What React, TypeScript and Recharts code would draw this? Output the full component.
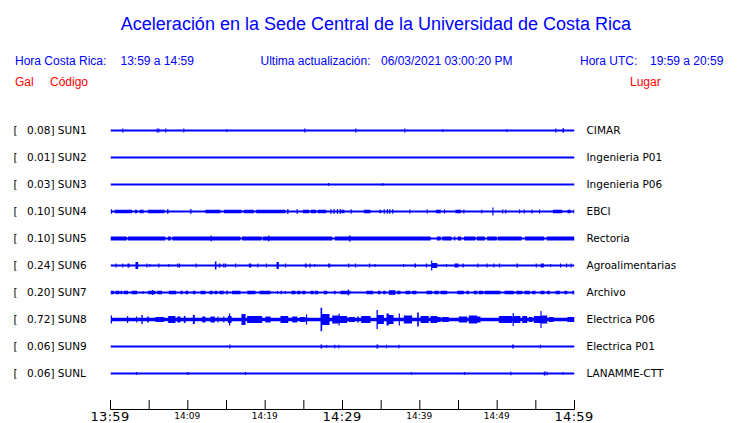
import React from 'react';
import { ComposedChart, Area, XAxis, YAxis } from 'recharts';

// ---------- data ----------
const CODES = ['SUN1', 'SUN2', 'SUN3', 'SUN4', 'SUN5', 'SUN6', 'SUN7', 'SUN8', 'SUN9', 'SUNL'];
const GAL = ['0.08', '0.01', '0.03', '0.10', '0.10', '0.24', '0.20', '0.72', '0.06', '0.06'];
const PLACES = ['CIMAR', 'Ingenieria P01', 'Ingenieria P06', 'EBCI', 'Rectoria', 'Agroalimentarias', 'Archivo', 'Electrica P06', 'Electrica P01', 'LANAMME-CTT'];

const TICK_MINUTES = [0, 5, 10, 15, 20, 25, 30, 35, 40, 45, 50, 55, 60];
const TICK_LABELS = ['13:59', '', '14:09', '', '14:19', '', '14:29', '', '14:39', '', '14:49', '', '14:59'];
const MAJOR_LABELS = ['13:59', '14:29', '14:59'];

// quiet-level half amplitude of each trace (px-like units)
const NOISE_FLOOR = [1, 1, 1, 1, 1, 1, 1, 1.8, 1, 1];

// bursts: [start minute, end minute, half amplitude]
const SUN1 = [[1.59, 1.59, 2], [6.04, 6.04, 2], [6.25, 6.25, 2], [7.15, 7.15, 2], [9.48, 9.48, 2], [15.04, 15.04, 1.6], [25.13, 25.13, 2], [31.72, 31.72, 2], [38.06, 38.06, 2], [42.97, 42.97, 1.6], [51.25, 51.25, 1.6], [57.58, 57.58, 2], [58.45, 58.65, 2.2]];
const SUN2: number[][] = [];
const SUN3 = [[28.2, 28.2, 1.6], [35.2, 35.2, 1.6]];
const SUN4 = [[0.05, 0.2, 2.2], [0.56, 2.8, 1.7], [3.15, 3.45, 1.7], [3.79, 4.31, 1.7], [4.83, 6.98, 1.7], [7.41, 7.41, 2.5], [10.39, 10.39, 2.5], [12.28, 14.22, 1.7], [14.66, 16.94, 1.7], [17.24, 18.53, 1.7], [18.84, 22.63, 1.7], [22.93, 22.93, 2.5], [24.14, 24.14, 2.5], [24.87, 25.7, 1.7], [25.9, 26.6, 1.7], [26.8, 27.89, 1.7], [28.5, 28.5, 2.5], [28.9, 28.9, 2.5], [29.35, 29.35, 2.5], [29.7, 29.7, 2.5], [29.87, 30.26, 1.7], [31.12, 31.12, 2.2], [32.76, 33.62, 1.7], [34.79, 35.0, 1.7], [35.4, 35.4, 2.2], [35.8, 35.8, 2.2], [36.1, 36.1, 2.2], [36.5, 36.5, 2.2], [38.7, 38.7, 2], [40.95, 40.95, 2], [42.1, 42.7, 1.7], [43.2, 43.2, 2], [44.6, 45.3, 1.7], [45.7, 45.7, 2], [47.9, 48.1, 1.7], [49.4, 49.5, 4], [50.7, 50.7, 2], [51.1, 51.1, 2], [52.9, 52.9, 2], [53.5, 53.5, 2], [54.5, 54.5, 2], [55.48, 55.48, 2], [57.2, 58.4, 1.7], [59.1, 59.5, 1.7], [59.9, 60, 2]];
const SUN5 = [[0, 2.1, 2], [2.25, 7.1, 2], [7.4, 7.8, 2], [8.0, 16.8, 2], [17.0, 19.55, 2], [19.7, 28.67, 2], [29.0, 41.4, 2], [42.2, 42.7, 2], [42.9, 44.1, 2], [44.4, 44.6, 2], [44.9, 45.35, 2], [45.7, 47.2, 2], [47.4, 48.4, 2], [48.7, 49.95, 2], [50.1, 53.15, 2], [53.6, 56.1, 2], [56.4, 60, 2], [13.02, 13.02, 3], [20.47, 20.47, 3], [30.95, 30.95, 3.2]];
const SUN6 = [[0.73, 0.73, 2], [1.59, 1.59, 2], [2.2, 2.46, 2], [3.23, 3.58, 3.5], [4.7, 4.7, 2], [5.08, 5.08, 1.5], [6.25, 6.25, 2], [7.54, 7.54, 1.5], [8.7, 8.7, 2], [8.92, 8.92, 2], [11.08, 11.08, 2], [13.5, 13.7, 4], [14.0, 14.2, 2], [14.65, 14.65, 2], [14.87, 14.87, 2], [16.1, 16.25, 2], [17.9, 18.2, 2], [19.05, 19.05, 2], [20.17, 20.17, 2], [21.47, 21.77, 3.5], [22.63, 22.63, 2], [25.13, 25.35, 2], [25.8, 25.8, 2], [26.4, 26.4, 1.5], [28.15, 28.4, 2], [30.8, 30.8, 2], [31.68, 31.68, 2], [33.5, 33.5, 2], [34.2, 34.2, 1.5], [37.9, 37.9, 1.5], [39.3, 39.5, 2], [40.86, 40.86, 2], [41.47, 41.6, 5], [41.6, 42.25, 2.5], [43.45, 43.45, 1.5], [44.5, 45.0, 2], [45.6, 45.6, 2], [47.5, 47.5, 2], [48.7, 48.7, 2], [49.57, 49.57, 2], [50.3, 50.3, 2], [52.5, 52.7, 2], [55.05, 55.05, 2], [55.65, 56.03, 2], [56.9, 56.9, 1.5], [58.2, 58.2, 2], [58.97, 58.97, 2], [59.57, 59.57, 2]];
const SUN7 = [[0, 0.43, 1.7], [0.65, 1.16, 1.7], [1.29, 1.51, 1.7], [1.72, 2.28, 1.7], [2.72, 3.45, 1.7], [4.2, 4.2, 1.5], [4.87, 5.82, 1.7], [5.4, 5.5, 2.6], [6.03, 6.68, 1.7], [7.54, 8.49, 1.7], [9.05, 9.35, 1.7], [9.7, 10.05, 1.7], [10.65, 10.99, 1.7], [11.64, 12.28, 1.7], [12.8, 13.23, 1.7], [13.45, 13.8, 1.7], [14.1, 14.65, 1.7], [14.96, 15.2, 1.7], [15.73, 16.81, 1.7], [17.67, 18.75, 1.7], [19.27, 20.69, 1.7], [21.6, 21.6, 1.5], [21.98, 22.2, 1.7], [22.6, 22.6, 1.5], [23.4, 23.92, 1.7], [24.14, 24.57, 1.7], [24.79, 25.22, 1.7], [25.86, 26.29, 1.7], [26.42, 26.86, 1.7], [27.58, 28.02, 1.7], [28.88, 29.1, 1.7], [29.74, 31.03, 1.7], [30.7, 30.8, 3], [33.1, 33.97, 1.7], [34.57, 34.92, 1.7], [35.26, 35.56, 1.7], [35.99, 36.85, 2.2], [37.07, 37.5, 1.7], [38.15, 38.79, 1.7], [39.0, 39.57, 1.7], [40.86, 41.6, 1.7], [41.9, 42.46, 1.7], [42.67, 43.54, 1.7], [44.83, 45.69, 1.7], [46.04, 46.34, 1.7], [46.98, 47.42, 1.7], [47.63, 48.2, 1.7], [48.36, 50.43, 1.7], [50.95, 52.16, 1.7], [52.5, 53.24, 1.7], [53.54, 54.23, 1.7], [54.53, 54.96, 1.7], [55.6, 56.12, 1.7], [56.47, 56.81, 1.7], [57.55, 58.1, 1.7], [58.7, 59.06, 1.7], [59.7, 60, 1.7]];
const SUN8 = [[0, 0.2, 4], [2.15, 2.28, 3.5], [3.32, 3.45, 3], [4.0, 4.17, 4.5], [4.74, 4.95, 3], [5.82, 6.9, 2.5], [7.46, 8.4, 3.5], [8.62, 9.05, 3], [9.48, 9.7, 3.5], [10.65, 10.9, 4.5], [11.86, 12.28, 3], [12.93, 13.49, 3], [13.9, 13.9, 3], [14.65, 14.65, 3], [15.17, 15.65, 3.5], [15.35, 15.45, 6], [16.94, 17.46, 5.5], [17.67, 19.61, 3.5], [20.04, 20.69, 3], [21.98, 22.98, 3.5], [23.49, 24.14, 3], [24.5, 25.2, 2.5], [25.35, 25.35, 5], [27.16, 27.37, 11.7], [27.37, 28.32, 5.5], [28.67, 29.53, 4], [29.53, 29.6, 6], [29.6, 30.61, 3.5], [30.8, 31.6, 2.5], [31.9, 32.1, 3], [32.42, 33.62, 3.5], [34.4, 34.57, 9.5], [34.57, 35.35, 4.5], [35.69, 35.99, 6], [35.99, 36.6, 4.5], [37.29, 37.41, 6], [37.93, 39.0, 4], [39.66, 39.87, 7], [40.09, 41.16, 3.5], [41.38, 42.25, 3.5], [42.25, 42.7, 2.5], [42.89, 43.75, 2.5], [45.04, 46.13, 3], [46.34, 47.42, 4], [47.42, 47.85, 3], [50.22, 51.95, 3.5], [52.07, 52.07, 6.5], [52.15, 53.0, 3.5], [53.24, 53.88, 3.5], [54.1, 54.55, 2.5], [54.74, 55.6, 3.5], [55.6, 55.73, 8.5], [55.73, 56.47, 4], [56.7, 57.3, 2.5], [59.06, 60, 2.5]];
const SUN9 = [[15.43, 15.43, 2], [27.16, 27.37, 2], [27.93, 27.93, 1.5], [29.0, 29.0, 1.8], [29.53, 29.53, 1.8], [34.4, 34.62, 2], [35.69, 35.69, 1.8], [37.29, 37.29, 1.8], [51.95, 52.15, 2], [55.6, 55.6, 1.8]];
const SUNL = [[3.36, 3.36, 1.5], [10.0, 10.0, 1.5], [17.46, 17.46, 1.5], [38.9, 38.9, 1.5], [45.78, 45.78, 1.5], [51.77, 51.77, 1.8], [56.03, 56.25, 2], [56.47, 56.47, 1.8], [58.5, 58.5, 1.5]];

const TRACES = [SUN1, SUN2, SUN3, SUN4, SUN5, SUN6, SUN7, SUN8, SUN9, SUNL];

// ---------- layout / style ----------
const W = 740;
const H = 423;
const BLUE = '#0000ff';
const RED = '#ff0000';
const SLOT = 27;
const FIRST = 13.5;
const Y_MAX = 292;
const T_MAX = 60;
const SPIKE_W = 0.15;

const centre = (i: number) => FIRST + SLOT * i;
const CENTRES = CODES.map((_, i) => centre(i));

const r3 = (v: number) => Math.round(v * 1000) / 1000;
const SEGS = TRACES.map((b) =>
  b.map(([s, e, a]) => {
    let s2 = s, e2 = e;
    if (e - s < SPIKE_W) { s2 = (s + e) / 2 - SPIKE_W / 2; e2 = (s + e) / 2 + SPIKE_W / 2; }
    return [r3(Math.max(0, s2)), r3(Math.min(T_MAX, e2)), a];
  })
);
const bp = new Set<number>([0, T_MAX]);
SEGS.forEach((segs) => segs.forEach(([s, e]) => { bp.add(s); bp.add(e); }));
const BPS = Array.from(bp).sort((a, b) => a - b);
const ROWS = BPS.map((t, k) => {
  const mid = k < BPS.length - 1 ? (t + BPS[k + 1]) / 2 : (BPS[k - 1] + t) / 2;
  const row: any = { t };
  SEGS.forEach((segs, i) => {
    let a = NOISE_FLOOR[i];
    segs.forEach(([s, e, amp]) => { if (mid >= s && mid < e && amp > a) a = amp; });
    const c = centre(i);
    row['s' + i] = [c - a, c + a];
  });
  return row;
});

const DEJAVU = '"DejaVu Sans", Verdana, sans-serif';
const ARIAL = '"Liberation Sans", Arial, Helvetica, sans-serif';

function StationTick(props: any) {
  const { y, payload } = props;
  const i = Math.round((payload.value - FIRST) / SLOT);
  return (
    <g>
      <text x={13.5} y={y + 3} fontSize={10.5} fontFamily={DEJAVU} fill="#000">[</text>
      <text x={27} y={y + 3} fontSize={10.5} fontFamily={DEJAVU} fill="#000">{`${GAL[i]}] ${CODES[i]}`}</text>
      <text x={586.5} y={y + 3} fontSize={10.5} fontFamily={DEJAVU} fill="#000">{PLACES[i]}</text>
    </g>
  );
}

function TimeTick(props: any) {
  const { x, y, payload } = props;
  const label = TICK_LABELS[TICK_MINUTES.indexOf(payload.value)] || '';
  const major = MAJOR_LABELS.includes(label);
  return (
    <g>
      <line x1={x} x2={x} y1={y - 9.5} y2={y} stroke="#000" strokeWidth={1} />
      {label ? (
        <text x={x - 0.5} y={major ? y + 11.5 : y + 9} textAnchor="middle" fontSize={major ? 13 : 9} fontFamily={DEJAVU} fill="#000" letterSpacing={major ? 0.3 : 0}>{label}</text>
      ) : null}
    </g>
  );
}

export default function App() {
  return (
    <div style={{ position: 'absolute', left: 0, top: 0, width: W, height: H, background: '#fff' }}>
      <ComposedChart width={W} height={H} data={ROWS} margin={{ top: 117, right: 165.5, left: 0, bottom: 0 }}>
        <XAxis
          dataKey="t"
          type="number"
          domain={[0, T_MAX]}
          ticks={TICK_MINUTES}
          interval={0}
          height={13.5}
          tickSize={0}
          tickMargin={0}
          tickLine={false}
          axisLine={{ stroke: '#000', strokeWidth: 1 }}
          tick={<TimeTick />}
          allowDataOverflow
        />
        <YAxis
          type="number"
          domain={[0, Y_MAX + 0.5]}
          reversed
          ticks={CENTRES}
          interval={0}
          width={110.5}
          axisLine={false}
          tickLine={false}
          tick={<StationTick />}
          allowDataOverflow
        />
        {CODES.map((c, i) => (
          <Area
            key={c}
            type="stepAfter"
            dataKey={'s' + i}
            stroke="none"
            fill={BLUE}
            fillOpacity={1}
            dot={false}
            activeDot={false}
            isAnimationActive={false}
          />
        ))}
      </ComposedChart>
      <svg width={W} height={H} style={{ position: 'absolute', left: 0, top: 0, pointerEvents: 'none' }}>
        <text x={376} y={29.5} textAnchor="middle" fontSize={18} fontFamily={ARIAL} fill={BLUE}>Aceleración en la Sede Central de la Universidad de Costa Rica</text>
        <text x={15} y={65} fontSize={12} fontFamily={ARIAL} fill={BLUE}>Hora Costa Rica:</text>
        <text x={120.5} y={65} fontSize={12} fontFamily={ARIAL} fill={BLUE}>13:59 a 14:59</text>
        <text x={260.5} y={65} fontSize={12} fontFamily={ARIAL} fill={BLUE}>Ultima actualización:</text>
        <text x={381} y={65} fontSize={12} fontFamily={ARIAL} fill={BLUE}>06/03/2021 03:00:20 PM</text>
        <text x={580} y={65} fontSize={12} fontFamily={ARIAL} fill={BLUE}>Hora UTC:</text>
        <text x={650} y={65} fontSize={12} fontFamily={ARIAL} fill={BLUE}>19:59 a 20:59</text>
        <text x={15} y={85.5} fontSize={12} fontFamily={ARIAL} fill={RED}>Gal</text>
        <text x={50} y={85.5} fontSize={12} fontFamily={ARIAL} fill={RED}>Código</text>
        <text x={630} y={85.5} fontSize={12} fontFamily={ARIAL} fill={RED}>Lugar</text>
      </svg>
    </div>
  );
}
